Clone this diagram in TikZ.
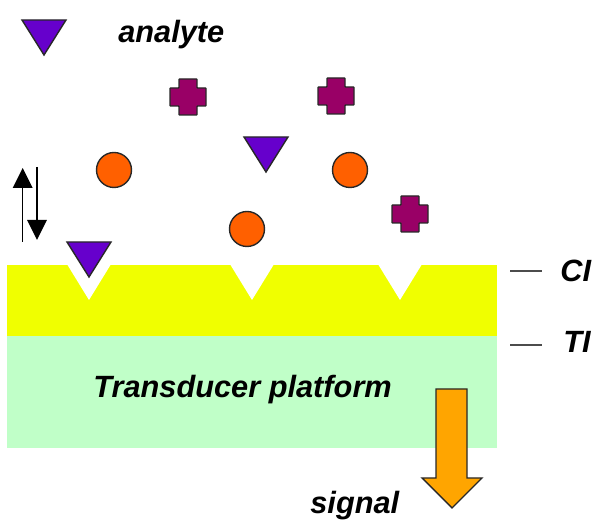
\documentclass[tikz,border=0pt]{standalone}
\usepackage{fontspec}
\setmainfont{Liberation Sans}
\usepackage{tikz}
\usetikzlibrary{arrows.meta}

\definecolor{analytecol}{RGB}{102,0,204}
\definecolor{crosscol}{RGB}{153,0,102}
\definecolor{ballcol}{RGB}{255,96,0}
\definecolor{cilayer}{RGB}{240,255,0}
\definecolor{tilayer}{RGB}{192,255,200}
\definecolor{signalcol}{RGB}{255,165,0}
\definecolor{edgecol}{RGB}{40,40,40}

\tikzset{
  txt/.style={font=\fontsize{17.5}{20}\selectfont\bfseries\itshape, inner sep=0pt},
  ball/.style={circle, draw=edgecol, fill=ballcol, line width=0.8pt, minimum size=0.7cm, inner sep=0pt},
  move/.style={line width=0.9pt, draw=black, -{Triangle[length=0.4cm,width=0.39cm]}},
  analyte/.pic={\draw[draw=edgecol, fill=analytecol, line width=0.8pt] (-0.44,0) -- (0.44,0) -- (0,-0.7) -- cycle;},
  notch/.pic={\fill[white] (-0.43,0) -- (0.43,0) -- (0,-0.7) -- cycle;},
  plusmol/.pic={\draw[draw=edgecol, fill=crosscol, line width=0.8pt, rounded corners=0.4pt]
    (-0.18,0.36) -- (0.18,0.36) -- (0.18,0.18) -- (0.36,0.18) -- (0.36,-0.18) -- (0.18,-0.18)
    -- (0.18,-0.36) -- (-0.18,-0.36) -- (-0.18,-0.18) -- (-0.36,-0.18) -- (-0.36,0.18) -- (-0.18,0.18) -- cycle;}
}

\begin{document}
\begin{tikzpicture}
        \useasboundingbox (0,0) rectangle (11.92,10.4);

        % layers
        \fill[cilayer] (0.14,3.68) rectangle (9.94,5.1);
        \fill[tilayer] (0.14,1.44) rectangle (9.94,3.68);
        \pic at (1.78,5.1) {notch};
        \pic at (5.04,5.1) {notch};
        \pic at (8.0,5.1) {notch};

        % molecules in solution
        \pic at (0.88,10.0) {analyte};
        \pic at (5.32,7.66) {analyte};
        \pic at (1.78,5.56) {analyte};
        \pic at (3.76,8.46) {plusmol};
        \pic at (6.72,8.48) {plusmol};
        \pic at (8.2,6.12) {plusmol};
        \node (b1) at (2.28,7.0) [ball] {};
        \node (b2) at (4.94,5.82) [ball] {};
        \node (b3) at (7.0,7.0) [ball] {};

        \node (an) at (2.36,9.54) [txt, anchor=base west] {analyte};

        % binding equilibrium
        \coordinate (upA) at (0.454,5.56);
        \coordinate (upB) at (0.454,7.04);
        \coordinate (dnA) at (0.74,7.06);
        \coordinate (dnB) at (0.74,5.6);
        \draw[move] (upA) -- (upB);
        \draw[move] (dnA) -- (dnB);

        % layer tags
        \node (ci) at (11.2,4.76) [txt, anchor=base west] {CI};
        \node (ti) at (11.26,3.34) [txt, anchor=base west] {TI};
        \coordinate (ciA) at (10.2,4.98);
        \coordinate (tiA) at (10.2,3.5);
        \draw[line width=1pt, black!70] (ciA) -- ++(0.64,0);
        \draw[line width=1pt, black!70] (tiA) -- ++(0.64,0);

        \node (tp) at (1.86,2.44) [txt, anchor=base west] {Transducer platform};

        % output
        \draw[draw=edgecol, fill=signalcol, line width=0.8pt]
          (8.72,2.62) -- (9.34,2.62) -- (9.34,0.84) -- (9.64,0.84) -- (9.04,0.24)
          -- (8.44,0.84) -- (8.72,0.84) -- cycle;
        \node (sg) at (6.2,0.12) [txt, anchor=base west] {signal};
    \end{tikzpicture}
\end{document}
